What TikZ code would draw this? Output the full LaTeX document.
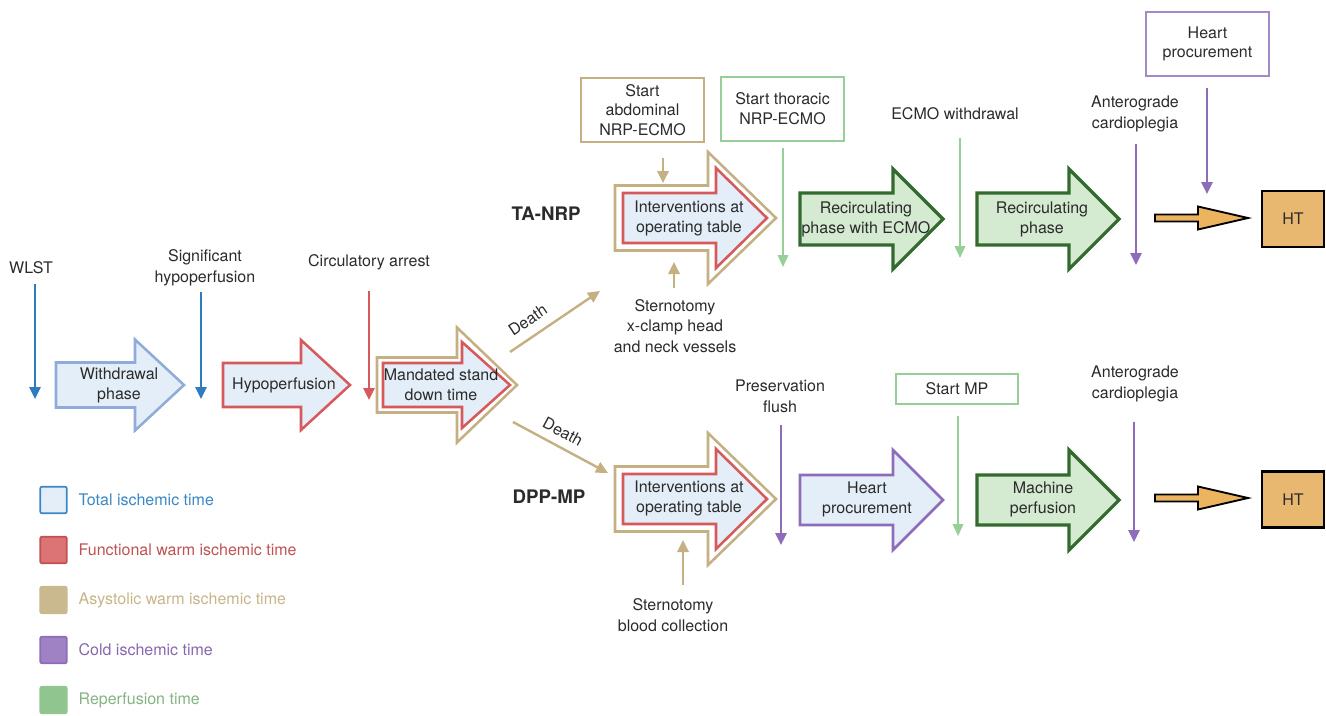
\documentclass[tikz,border=0pt]{standalone}
\usepackage{fontspec}
\setmainfont{TeX Gyre Heros}
\usetikzlibrary{positioning,arrows.meta}
\definecolor{evblue}{HTML}{2E7BBF}
\definecolor{legblue}{HTML}{3A87C6}
\definecolor{wdrblue}{HTML}{8FABD9}
\definecolor{paleblue}{HTML}{E4EEF8}
\definecolor{warmred}{HTML}{D65A5C}
\definecolor{asytan}{HTML}{C4B083}
\definecolor{lightgreen}{HTML}{98CF98}
\definecolor{darkgreen}{HTML}{336B2F}
\definecolor{palegreen}{HTML}{D4EAD1}
\definecolor{coldpurple}{HTML}{8D6CB9}
\definecolor{htorange}{HTML}{E8B870}
\definecolor{arrorange}{HTML}{EDB45F}
\definecolor{txtgray}{HTML}{2B2B2B}

% block arrow: style, left x, centre y, head base x, tip x, half body, half head
\newcommand{\phasearrow}[7]{%
  \draw[#1] (#2,#3-#6) -- (#4,#3-#6) -- (#4,#3-#7) -- (#5,#3)
    -- (#4,#3+#7) -- (#4,#3+#6) -- (#2,#3+#6) -- cycle;}

\begin{document}
\begin{tikzpicture}[x=0.75pt,y=-0.75pt,
  lbl/.style={align=center, inner sep=1pt, text=txtgray, font=\fontsize{12}{15.5}\selectfont},
  phase/.style={lbl, font=\fontsize{12}{15}\selectfont},
  evt/.style={line width=1.5pt, -{Triangle[length=9pt,width=8.5pt]}},
  evtthin/.style={line width=1.2pt, -{Triangle[length=9pt,width=8pt]}},
  startbox/.style={lbl, draw, line width=1.5pt, minimum width=92pt, minimum height=48pt, inner sep=2pt, font=\fontsize{12}{14.5}\selectfont},
  htbox/.style={lbl, draw=black, fill=htorange, line width=1.6pt, minimum width=46pt, minimum height=42pt},
  route/.style={font=\bfseries\fontsize{14}{16}\selectfont, text=txtgray},
  legbox/.style={minimum size=20pt, inner sep=0pt, rounded corners=1.5pt, line width=1.3pt},
  legtxt/.style={font=\fontsize{12}{14}\selectfont, inner sep=0pt},
  wdrarrow/.style={draw=wdrblue, fill=paleblue, line width=1.9pt},
  redarrow/.style={draw=warmred, fill=paleblue, line width=1.9pt},
  tanarrow/.style={draw=asytan, fill=white, line width=1.9pt},
  greenarrow/.style={draw=darkgreen, fill=palegreen, line width=2.4pt},
  purparrow/.style={draw=coldpurple, fill=paleblue, line width=1.9pt},
  htarrow/.style={draw=black, fill=arrorange, line width=1.4pt}]
\useasboundingbox (0,0) rectangle (1326,715);

% common part
\node[lbl] (wlst) at (31,268) {WLST};
\coordinate (wlst-end) at (35,399);
\draw[evt, evblue, shorten <=6pt] (wlst.south -| wlst-end) -- (wlst-end);
\node[lbl] (sighyp) at (205,268) {Significant\\hypoperfusion};
\coordinate (sighyp-end) at (201,399);
\draw[evt, evblue, shorten <=3pt] (sighyp.south -| sighyp-end) -- (sighyp-end);
\node[lbl] (circ) at (369,262) {Circulatory arrest};
\coordinate (circ-end) at (369,400);
\draw[evt, warmred, shorten <=15pt] (circ.south -| circ-end) -- (circ-end);

\phasearrow{wdrarrow}{56}{385}{135}{184}{22.5}{45.5}
\node[phase] (withdrawal) at (119,385) {Withdrawal\\phase};
\phasearrow{redarrow}{223}{385}{301}{350}{22}{45}
\node[phase] (hypoperf) at (284,385) {Hypoperfusion};
\phasearrow{tanarrow}{377}{385}{457}{517}{27.5}{57.5}
\phasearrow{redarrow}{383}{385}{462}{510}{22}{43}
\node[phase] (standdown) at (441,385) {Mandated stand\\down time};

% death branches
\coordinate (mand-up) at (510,352);
\coordinate (ta-in) at (600,291);
\draw[evt, asytan, line width=1.8pt] (mand-up) -- node[lbl, sloped, above=6pt, pos=0.3] (death-ta) {Death} (ta-in);
\coordinate (mand-down) at (513,422);
\coordinate (dpp-in) at (608,473);
\draw[evt, asytan, line width=1.8pt] (mand-down) -- node[lbl, sloped, above=5pt, pos=0.45] (death-dpp) {Death} (dpp-in);

% TA-NRP
\node[route] (tanrp) at (546,214) {TA-NRP};
\node[startbox, draw=asytan] (abdstart) at (642.5,110) {Start\\abdominal\\NRP-ECMO};
\coordinate (abd-end) at (663,183);
\draw[evt, asytan, line width=1.8pt, shorten <=11pt] (abdstart.south -| abd-end) -- (abd-end);
\phasearrow{tanarrow}{615}{218}{708}{776}{32.5}{66}
\phasearrow{redarrow}{623}{218}{716}{767}{25}{50}
\node[phase] (ta-interv) at (689,218) {Interventions at\\operating table};
\node[lbl] (ta-stern) at (675,326) {Sternotomy\\x-clamp head\\and neck vessels};
\coordinate (ta-stern-end) at (674,262);
\draw[evt, asytan, line width=1.8pt, shorten <=7.5pt] (ta-stern.north -| ta-stern-end) -- (ta-stern-end);

\node[startbox, draw=lightgreen] (thorstart) at (782.5,108.5) {Start thoracic\\NRP-ECMO};
\coordinate (thor-end) at (783,267);
\draw[evtthin, lightgreen, shorten <=4.5pt] (thorstart.south -| thor-end) -- (thor-end);
\phasearrow{greenarrow}{800}{219}{893}{943}{26}{50}
\node[phase] (recirc-ecmo) at (866,219) {Recirculating\\phase with ECMO};
\node[lbl] (ecmo-wd) at (955,114) {ECMO withdrawal};
\coordinate (ecmo-wd-end) at (960,258);
\draw[evtthin, lightgreen, shorten <=12pt] (ecmo-wd.south -| ecmo-wd-end) -- (ecmo-wd-end);
\phasearrow{greenarrow}{977}{219}{1069}{1119}{26}{50}
\node[phase] (recirc) at (1042,219) {Recirculating\\phase};
\node[lbl] (antero-ta) at (1135,114) {Anterograde\\cardioplegia};
\coordinate (antero-ta-end) at (1136,265);
\draw[evt, coldpurple, shorten <=7.5pt] (antero-ta.south -| antero-ta-end) -- (antero-ta-end);
\node[startbox, draw=coldpurple!80] (procstart) at (1207.5,44) {Heart\\procurement};
\coordinate (proc-end) at (1207,194);
\draw[evt, coldpurple, shorten <=8pt] (procstart.south -| proc-end) -- (proc-end);
\phasearrow{htarrow}{1155}{218}{1198}{1248}{3.5}{11.5}
\node[htbox] (ht-ta) at (1293,219) {HT};

% DPP-MP
\node[route] (dppmp) at (549,497) {DPP-MP};
\phasearrow{tanarrow}{615}{499}{708}{776}{32.5}{66}
\phasearrow{redarrow}{623}{499}{716}{767}{25}{50}
\node[phase] (dpp-interv) at (689,498) {Interventions at\\operating table};
\node[lbl] (dpp-stern) at (673,615) {Sternotomy\\blood collection};
\coordinate (dpp-stern-end) at (683,540);
\draw[evt, asytan, line width=1.8pt, shorten <=9pt] (dpp-stern.north -| dpp-stern-end) -- (dpp-stern-end);
\node[lbl] (flush) at (780,396) {Preservation\\flush};
\coordinate (flush-end) at (781,545);
\draw[evt, coldpurple, shorten <=8.6pt] (flush.south -| flush-end) -- (flush-end);
\phasearrow{purparrow}{800}{500}{893}{943}{25}{50}
\node[phase] (procure) at (867,499) {Heart\\procurement};
\node[startbox, draw=lightgreen, minimum height=22.5pt] (mpstart) at (957,389) {Start MP};
\coordinate (mp-end) at (958,536);
\draw[evtthin, lightgreen, shorten <=8pt] (mpstart.south -| mp-end) -- (mp-end);
\phasearrow{greenarrow}{977}{500}{1069}{1119}{25}{50}
\node[phase] (machine) at (1043,499) {Machine\\perfusion};
\node[lbl] (antero-dpp) at (1135,384) {Anterograde\\cardioplegia};
\coordinate (antero-dpp-end) at (1134,542);
\draw[evt, coldpurple, shorten <=13.5pt] (antero-dpp.south -| antero-dpp-end) -- (antero-dpp-end);
\phasearrow{htarrow}{1155}{498}{1198}{1248}{3.5}{11.5}
\node[htbox] (ht-dpp) at (1293,499.5) {HT};

% legend
\node[legbox, draw=legblue, fill=paleblue] (leg-total) at (53.5,500) {};
\node[legtxt, text=legblue, right=8pt of leg-total] {Total ischemic time};
\node[legbox, draw=warmred!90!black, fill=warmred!85] (leg-fwit) at (53.5,550) {};
\node[legtxt, text=warmred!90!black, right=8pt of leg-fwit] {Functional warm ischemic time};
\node[legbox, draw=asytan!90, fill=asytan!90] (leg-awit) at (53.5,600) {};
\node[legtxt, text=asytan!95, right=8pt of leg-awit] {Asystolic warm ischemic time};
\node[legbox, draw=coldpurple, fill=coldpurple!85] (leg-cold) at (53.5,650) {};
\node[legtxt, text=coldpurple!95!black, right=8pt of leg-cold] {Cold ischemic time};
\node[legbox, draw=lightgreen!95!black, fill=lightgreen!95!black] (leg-rep) at (53.5,700) {};
\node[legtxt, text=lightgreen!60!darkgreen!85, right=8pt of leg-rep] {Reperfusion time};
\end{tikzpicture}
\end{document}
